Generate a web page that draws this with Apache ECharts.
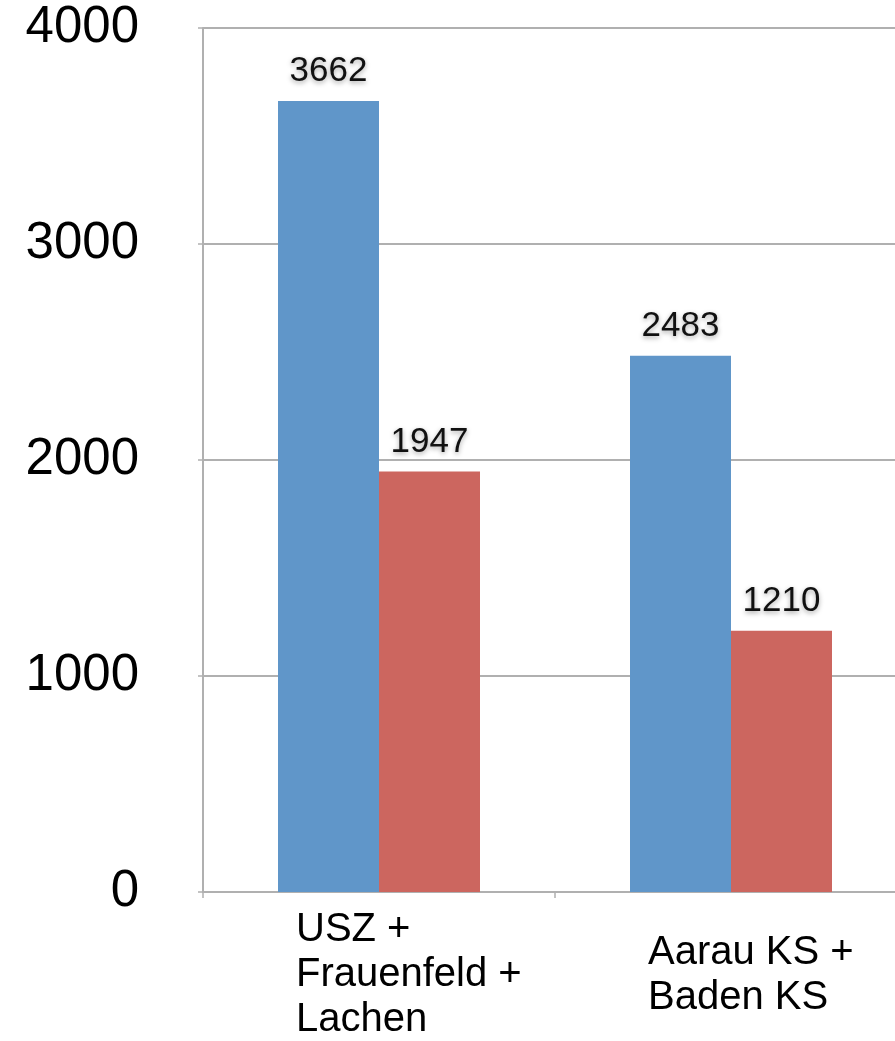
<!DOCTYPE html>
<html>
<head>
<meta charset="utf-8">
<script src="https://cdn.jsdelivr.net/npm/echarts@6/dist/echarts.min.js"></script>
<style>
html,body{margin:0;padding:0;background:#fff;}
#chart{width:895px;height:1041px;}
</style>
</head>
<body>
<div id="chart"></div>
<script>
const categories = ['USZ +\nFrauenfeld +\nLachen', 'Aarau KS +\nBaden KS'];
const seriesBlue = [3662, 2483];
const seriesRed = [1947, 1210];
const yTicks = [0, 1000, 2000, 3000, 4000];

const FONT = '"Helvetica Neue", Helvetica, "Liberation Sans", Arial, sans-serif';
const chart = echarts.init(document.getElementById('chart'), null, {renderer: 'canvas'});

const dataLabel = {
  show: true,
  position: 'top',
  distance: 12,
  color: '#111',
  fontSize: 35,
  fontFamily: FONT,
  textShadowColor: 'rgba(0,0,0,0.35)',
  textShadowBlur: 5,
  textShadowOffsetY: 2
};

chart.setOption({
  animation: false,
  backgroundColor: '#ffffff',
  grid: {left: 203, right: -12, top: 28, bottom: 149, containLabel: false, outerBoundsMode: 'none'},
  xAxis: {
    type: 'category',
    data: categories,
    axisLine: {show: true, lineStyle: {color: '#b0b0b0', width: 2}},
    axisTick: {show: true, length: 6, lineStyle: {color: '#b0b0b0', width: 1.5}},
    axisLabel: {
      interval: 0,
      color: '#000',
      fontSize: 40,
      fontFamily: FONT,
      lineHeight: 45,
      margin: 83,
      verticalAlign: 'middle',
      formatter: function (v) {
        return v.split('\n').map(function (s) { return '{a|' + s + '}'; }).join('\n');
      },
      rich: {
        a: {width: 166, align: 'left', fontSize: 40, lineHeight: 45, fontFamily: FONT, color: '#000'}
      }
    },
    splitLine: {show: false}
  },
  yAxis: {
    type: 'value',
    min: yTicks[0],
    max: yTicks[yTicks.length - 1],
    interval: 1000,
    axisLine: {show: true, lineStyle: {color: '#b0b0b0', width: 2}},
    axisTick: {show: true, length: 5, lineStyle: {color: '#b0b0b0', width: 1.5}},
    axisLabel: {
      color: '#000', fontSize: 51, fontFamily: FONT, margin: 64,
      formatter: function (v) { return String(v); }
    },
    splitLine: {show: true, lineStyle: {color: '#b0b0b0', width: 2}}
  },
  series: [
    {
      type: 'bar',
      data: seriesBlue,
      barWidth: 101,
      barGap: '0%',
      itemStyle: {color: '#6096c9'},
      label: dataLabel
    },
    {
      type: 'bar',
      data: seriesRed,
      barWidth: 101,
      barGap: '0%',
      itemStyle: {color: '#cc665f'},
      label: dataLabel
    }
  ]
});
</script>
</body>
</html>
